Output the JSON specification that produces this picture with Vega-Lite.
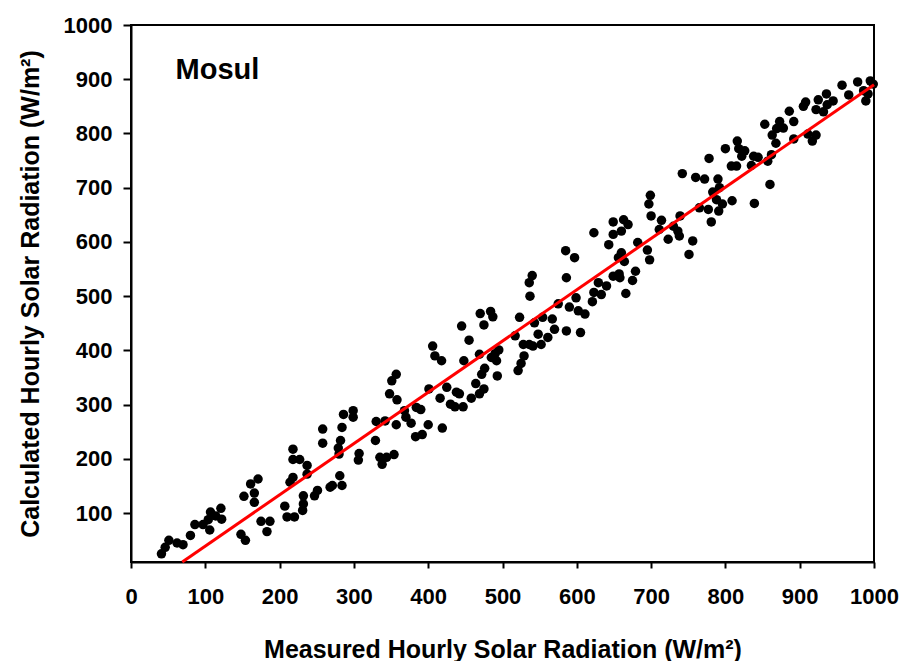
{
  "$schema": "https://vega.github.io/schema/vega-lite/v6.json",
  "width": 743,
  "height": 537,
  "autosize": "none",
  "padding": {"left": 131, "top": 25, "right": 27, "bottom": 99},
  "background": "white",
  "config": {"view": {"stroke": "black", "strokeWidth": 2}, "font": "Liberation Sans"},
  "layer": [
    {
      "data": {"values": [
        {"measured":41,"calculated":25},{"measured":46,"calculated":37},{"measured":51,"calculated":50},{"measured":62,"calculated":45},{"measured":70,"calculated":42},{"measured":80,"calculated":59},{"measured":86,"calculated":79},{"measured":97,"calculated":79},{"measured":104,"calculated":88},{"measured":106,"calculated":69},{"measured":107,"calculated":102},{"measured":114,"calculated":95},{"measured":121,"calculated":109},{"measured":122,"calculated":89},{"measured":148,"calculated":61},{"measured":154,"calculated":50},{"measured":152,"calculated":131},{"measured":161,"calculated":154},{"measured":171,"calculated":163},{"measured":166,"calculated":137},{"measured":166,"calculated":120},{"measured":175,"calculated":85},{"measured":187,"calculated":85},{"measured":183,"calculated":66},{"measured":207,"calculated":113},{"measured":210,"calculated":93},{"measured":220,"calculated":93},{"measured":214,"calculated":157},{"measured":218,"calculated":166},{"measured":218,"calculated":199},{"measured":218,"calculated":218},{"measured":227,"calculated":199},{"measured":237,"calculated":188},{"measured":237,"calculated":172},{"measured":232,"calculated":132},{"measured":232,"calculated":117},{"measured":231,"calculated":105},{"measured":247,"calculated":132},{"measured":251,"calculated":142},{"measured":258,"calculated":229},{"measured":258,"calculated":255},{"measured":268,"calculated":148},
        {"measured":271,"calculated":151},{"measured":284,"calculated":151},
        {"measured":281,"calculated":169},{"measured":280,"calculated":209},{"measured":282,"calculated":234},{"measured":279,"calculated":220},{"measured":284,"calculated":258},{"measured":286,"calculated":282},{"measured":299,"calculated":289},{"measured":299,"calculated":277},{"measured":307,"calculated":210},{"measured":306,"calculated":198},{"measured":329,"calculated":234},{"measured":330,"calculated":269},{"measured":342,"calculated":270},{"measured":335,"calculated":203},{"measured":338,"calculated":190},{"measured":344,"calculated":203},{"measured":354,"calculated":208},{"measured":357,"calculated":263},{"measured":348,"calculated":320},{"measured":358,"calculated":309},{"measured":351,"calculated":344},{"measured":357,"calculated":356},{"measured":368,"calculated":289},{"measured":370,"calculated":277},{"measured":377,"calculated":266},{"measured":384,"calculated":295},{"measured":390,"calculated":291},{"measured":383,"calculated":241},{"measured":392,"calculated":245},{"measured":400,"calculated":263},{"measured":401,"calculated":329},{"measured":406,"calculated":408},{"measured":409,"calculated":390},{"measured":418,"calculated":381},{"measured":416,"calculated":312},{"measured":419,"calculated":257},{"measured":425,"calculated":332},{"measured":430,"calculated":301},{"measured":436,"calculated":296},{"measured":438,"calculated":323},{"measured":442,"calculated":320},{"measured":447,"calculated":296},{"measured":445,"calculated":445},{"measured":448,"calculated":381},{"measured":455,"calculated":419},{"measured":458,"calculated":312},{"measured":464,"calculated":339},{"measured":469,"calculated":320},{"measured":475,"calculated":329},{"measured":469,"calculated":393},{"measured":472,"calculated":356},{"measured":476,"calculated":367},{"measured":470,"calculated":468},{"measured":475,"calculated":447},{"measured":484,"calculated":472},{"measured":487,"calculated":462},{"measured":485,"calculated":387},{"measured":490,"calculated":394},{"measured":492,"calculated":381},{"measured":495,"calculated":401},{"measured":493,"calculated":353},{"measured":517,"calculated":427},{"measured":521,"calculated":363},{"measured":523,"calculated":461},
        {"measured":525,"calculated":376},{"measured":529,"calculated":390},{"measured":528,"calculated":411},{"measured":536,"calculated":411},{"measured":541,"calculated":408},{"measured":548,"calculated":430},{"measured":552,"calculated":411},{"measured":543,"calculated":451},{"measured":554,"calculated":461},{"measured":561,"calculated":424},{"measured":567,"calculated":458},{"measured":570,"calculated":439},{"measured":575,"calculated":486},{"measured":586,"calculated":436},{"measured":605,"calculated":433},{"measured":590,"calculated":480},{"measured":599,"calculated":497},{"measured":602,"calculated":473},{"measured":611,"calculated":467},{"measured":537,"calculated":500},{"measured":536,"calculated":525},{"measured":540,"calculated":538},{"measured":586,"calculated":534},{"measured":585,"calculated":584},{"measured":597,"calculated":571},{"measured":621,"calculated":490},{"measured":623,"calculated":507},{"measured":629,"calculated":525},{"measured":633,"calculated":503},{"measured":640,"calculated":519},{"measured":649,"calculated":537},{"measured":657,"calculated":541},{"measured":658,"calculated":534},{"measured":666,"calculated":505},{"measured":675,"calculated":529},{"measured":679,"calculated":546},{"measured":656,"calculated":571},{"measured":660,"calculated":580},{"measured":664,"calculated":564},{"measured":643,"calculated":595},{"measured":649,"calculated":614},{"measured":649,"calculated":637},{"measured":660,"calculated":620},{"measured":663,"calculated":641},{"measured":669,"calculated":632},{"measured":623,"calculated":617},{"measured":682,"calculated":599},{"measured":695,"calculated":585},{"measured":698,"calculated":567},{"measured":700,"calculated":648},{"measured":697,"calculated":670},{"measured":699,"calculated":686},{"measured":714,"calculated":640},{"measured":711,"calculated":623},{"measured":723,"calculated":605},{"measured":730,"calculated":629},{"measured":736,"calculated":620},{"measured":739,"calculated":648},{"measured":738,"calculated":611},{"measured":756,"calculated":602},{"measured":751,"calculated":577},{"measured":742,"calculated":726},{"measured":760,"calculated":719},{"measured":765,"calculated":663},
        {"measured":772,"calculated":716},{"measured":778,"calculated":754},{"measured":790,"calculated":716},{"measured":792,"calculated":700},{"measured":783,"calculated":692},{"measured":788,"calculated":678},{"measured":796,"calculated":670},{"measured":791,"calculated":657},{"measured":777,"calculated":660},{"measured":781,"calculated":637},{"measured":809,"calculated":676},{"measured":839,"calculated":671},{"measured":860,"calculated":706},{"measured":800,"calculated":772},{"measured":808,"calculated":740},{"measured":815,"calculated":740},{"measured":816,"calculated":786},{"measured":818,"calculated":772},{"measured":826,"calculated":768},{"measured":822,"calculated":758},{"measured":835,"calculated":741},{"measured":838,"calculated":758},{"measured":844,"calculated":756},{"measured":857,"calculated":749},{"measured":862,"calculated":761},{"measured":868,"calculated":782},{"measured":863,"calculated":797},{"measured":869,"calculated":809},{"measured":853,"calculated":817},{"measured":873,"calculated":822},{"measured":878,"calculated":810},{"measured":886,"calculated":841},{"measured":892,"calculated":822},{"measured":892,"calculated":790},{"measured":911,"calculated":799},{"measured":917,"calculated":786},{"measured":922,"calculated":797},{"measured":905,"calculated":850},{"measured":908,"calculated":858},{"measured":922,"calculated":844},{"measured":925,"calculated":862},{"measured":932,"calculated":840},{"measured":936,"calculated":873},{"measured":937,"calculated":853},{"measured":945,"calculated":860},{"measured":957,"calculated":889},{"measured":966,"calculated":871},{"measured":978,"calculated":895},{"measured":986,"calculated":879},{"measured":989,"calculated":860},{"measured":995,"calculated":897},{"measured":999,"calculated":891},{"measured":992,"calculated":873}
      ]},
      "mark": {"type": "circle", "size": 90, "color": "black", "opacity": 1},
      "encoding": {
        "x": {
          "field": "measured", "type": "quantitative",
          "scale": {"domain": [0, 1000], "nice": false, "zero": false},
          "axis": {
            "title": "Measured Hourly Solar Radiation (W/m²)",
            "values": [0, 100, 200, 300, 400, 500, 600, 700, 800, 900, 1000],
            "format": "d",
            "grid": false, "labelFlush": false, "labelOverlap": false,
            "domainColor": "black", "domainWidth": 2,
            "tickColor": "black", "tickWidth": 2, "tickSize": 6,
            "labelFont": "Liberation Sans", "labelFontSize": 22, "labelFontWeight": "bold", "labelColor": "black", "labelPadding": 18,
            "titleFont": "Liberation Sans", "titleFontSize": 25, "titleFontWeight": "bold", "titleColor": "black",
            "titleY": 95, "titleBaseline": "alphabetic"
          }
        },
        "y": {
          "field": "calculated", "type": "quantitative",
          "scale": {"domain": [10, 1000], "nice": false, "zero": false},
          "axis": {
            "title": "Calculated Hourly Solar Radiation (W/m²)",
            "values": [100, 200, 300, 400, 500, 600, 700, 800, 900, 1000],
            "format": "d",
            "grid": false, "labelFlush": false, "labelOverlap": false,
            "domainColor": "black", "domainWidth": 2,
            "tickColor": "black", "tickWidth": 2, "tickSize": 8,
            "labelFont": "Liberation Sans", "labelFontSize": 22, "labelFontWeight": "bold", "labelColor": "black", "labelPadding": 11,
            "titleFont": "Liberation Sans", "titleFontSize": 25, "titleFontWeight": "bold", "titleColor": "black",
            "titleX": -93, "titleY": 268.5, "titleAngle": -90, "titleAlign": "center", "titleBaseline": "alphabetic"
          }
        }
      }
    },
    {
      "data": {"values": [{"measured": 69, "calculated": 10}, {"measured": 1000, "calculated": 890}]},
      "mark": {"type": "line", "color": "#ff0000", "strokeWidth": 3},
      "encoding": {
        "x": {"field": "measured", "type": "quantitative", "scale": {"domain": [0, 1000], "nice": false, "zero": false}},
        "y": {"field": "calculated", "type": "quantitative", "scale": {"domain": [10, 1000], "nice": false, "zero": false}}
      }
    },
    {
      "data": {"values": [{"label": "Mosul"}]},
      "mark": {"type": "text", "font": "Liberation Sans", "fontSize": 29, "fontWeight": "bold", "align": "left", "baseline": "alphabetic", "color": "black"},
      "encoding": {
        "text": {"field": "label"},
        "x": {"datum": 60, "type": "quantitative"},
        "y": {"datum": 900, "type": "quantitative"}
      }
    }
  ]
}
